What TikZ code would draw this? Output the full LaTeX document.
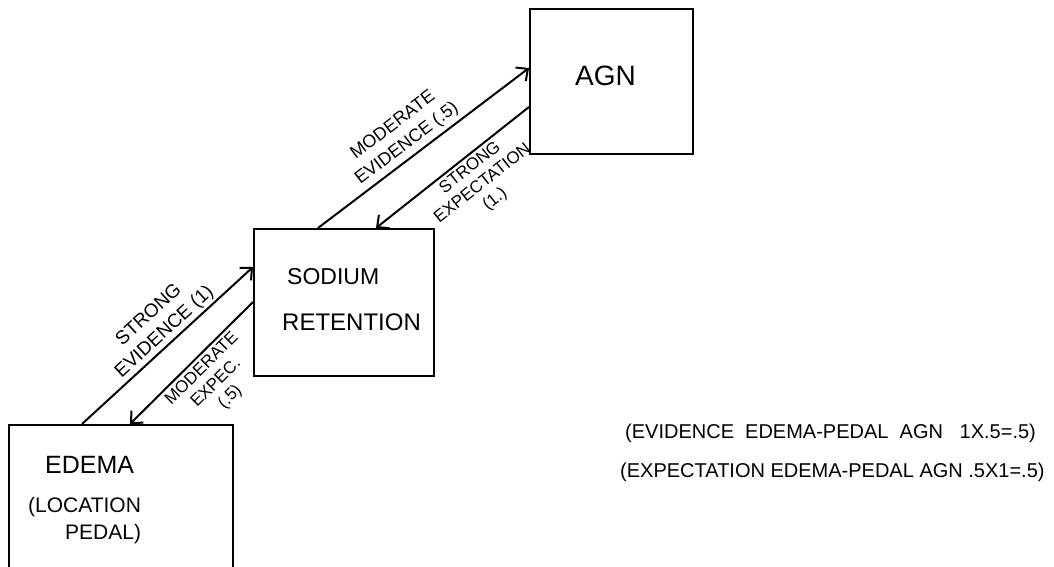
\documentclass[tikz,border=0pt]{standalone}
\usepackage{fontspec}
\setmainfont{Liberation Sans}
\usetikzlibrary{arrows.meta,calc}
\begin{document}
\begin{tikzpicture}[x=1pt,y=-1pt,
  box/.style={draw,line width=2.2pt,anchor=north west,inner sep=0pt},
  conn/.style={line width=2pt},
  tipend/.style={-{Straight Barb[length=9pt,width=17pt,line width=2pt]}},
  tipstart/.style={{Straight Barb[length=9pt,width=17pt,line width=2pt]}-},
  lbl/.style={font=\fontsize{18}{23}\selectfont,align=center,inner sep=1pt,sloped},
  boxtxt/.style={font=\fontsize{23}{25}\selectfont,anchor=west,inner sep=0pt},
  note/.style={font=\fontsize{20}{22}\selectfont,anchor=west,inner sep=0pt}
]
\useasboundingbox (0,0) rectangle (1054,567);
\clip (0,0) rectangle (1054,567);
% boxes
\node[box,minimum width=163pt,minimum height=145pt] (agn) at (529,8) {};
\node[box,minimum width=180pt,minimum height=147pt] (sod) at (253,228) {};
\node[box,minimum width=224pt,minimum height=170pt] (ede) at (8,424) {};
% box texts
\node[boxtxt,font=\fontsize{28}{30}\selectfont] (agnt) at (575,76) {AGN};
\node[boxtxt] (sod1) at (287,277) {SODIUM};
\node[boxtxt,font=\fontsize{24}{26}\selectfont] (sod2) at (282,322) {RETENTION};
\node[boxtxt,font=\fontsize{25}{27}\selectfont] (ede1) at (45,465) {EDEMA};
\node[boxtxt,font=\fontsize{21}{23}\selectfont] (ede2) at (28,507) {(LOCATION};
\node[boxtxt,font=\fontsize{21}{23}\selectfont] (ede3) at (65,534) {PEDAL)};
% connectors
\draw[conn,tipend] ($(sod.north west)+(65,0)$) -- ($(agn.north west)+(0,60)$)
  node[lbl,pos=0.46,above=3pt] (l1) {MODERATE\\EVIDENCE (.5)};
\draw[conn,tipstart] ($(sod.north west)+(123,0)$) -- ($(agn.north west)+(0,99)$)
  node[lbl,pos=0.57,below=2pt,font=\fontsize{17}{20}\selectfont] (l2) {STRONG\\EXPECTATION\\(1.)};
\draw[conn,tipend] ($(ede.north west)+(74,0)$) -- ($(sod.north west)+(0,39)$)
  node[lbl,pos=0.53,above=1pt,font=\fontsize{19}{23}\selectfont] (l3) {STRONG\\EVIDENCE (1)};
\draw[conn,tipstart] ($(ede.north west)+(122,0)$) -- ($(sod.north west)+(0,74)$)
  node[lbl,pos=0.52,below=2pt,font=\fontsize{17}{20}\selectfont] (l4) {MODERATE\\EXPEC.\\(.5)};
% notes
\node[note] (n1) at (625,433) {(EVIDENCE\ \ EDEMA-PEDAL\ \ AGN\ \ \ 1X.5=.5)};
\node[note] (n2) at (620,472) {(EXPECTATION\ EDEMA-PEDAL\ AGN\ .5X1=.5)};
\end{tikzpicture}
\end{document}
